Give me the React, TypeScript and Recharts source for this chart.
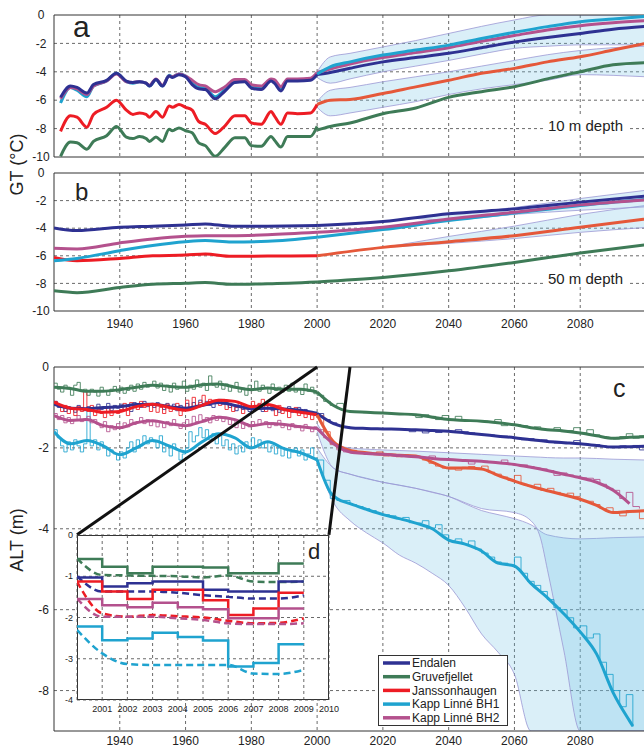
import React from 'react';
import {
  ComposedChart,
  Line,
  Area,
  XAxis,
  YAxis,
  CartesianGrid,
  ReferenceArea,
  ReferenceLine,
} from 'recharts';

const FONT = '"Liberation Sans", Arial, Helvetica, sans-serif';

const STATIONS = ['Endalen', 'Gruvefjellet', 'Janssonhaugen', 'Kapp Linné BH1', 'Kapp Linné BH2'];
const COLORS = ['#2e3192', '#3e7b57', '#ed1c24', '#1fa3cf', '#b4518d'];
const PROJ_RED = '#e5583a';
const BAND_FILL = '#6fc2e4';
const BAND_EDGE = '#9c98d4';

const DECADES = [1940, 1960, 1980, 2000, 2020, 2040, 2060, 2080];
const ODD_DECADES = [1930, 1950, 1970, 1990, 2010, 2030, 2050, 2070, 2090];

// ---------- panel a : 10 m depth ----------
const aHistYears = [1922, 1925, 1927, 1930, 1932, 1936, 1939, 1942, 1944, 1946, 1948, 1949, 1951, 1953, 1955, 1956, 1958, 1960, 1962, 1964, 1966, 1969, 1972, 1975, 1978, 1980, 1983, 1986, 1987, 1989, 1991, 1994, 1998, 2000];
const aHistEndalen = [-5.8, -5.0, -5.1, -5.5, -4.9, -4.6, -4.1, -4.65, -4.75, -4.7, -4.8, -5.0, -4.55, -5.0, -4.3, -4.4, -4.2, -4.35, -4.9, -5.2, -5.25, -5.9, -5.35, -4.75, -4.7, -5.15, -5.25, -4.65, -4.8, -5.35, -4.65, -4.65, -4.6, -4.2];
const aHistGruve = [-9.95, -8.95, -9.0, -9.45, -8.9, -8.5, -7.85, -8.6, -8.7, -8.55, -8.7, -8.9, -8.6, -8.9, -8.05, -8.15, -7.95, -8.15, -8.3, -9.0, -9.2, -9.95, -9.3, -8.65, -8.65, -9.2, -9.25, -8.55, -8.8, -9.3, -8.55, -8.55, -8.55, -7.85];
const aHistJansson = [-8.2, -7.1, -7.2, -7.9, -7.0, -6.5, -6.0, -6.7, -7.0, -6.9, -7.0, -7.2, -6.8, -7.2, -6.4, -6.5, -6.3, -6.5, -6.7, -7.5, -7.7, -8.35, -7.8, -7.1, -7.1, -7.6, -7.7, -6.8, -7.1, -7.7, -6.9, -6.95, -6.9, -6.3];
const aHistBH1 = [-6.2, -5.1, -5.3, -5.75, -5.0, -4.65, -4.1, -4.7, -4.8, -4.7, -4.8, -5.0, -4.55, -5.0, -4.25, -4.35, -4.15, -4.3, -4.8, -5.1, -5.15, -5.75, -5.25, -4.7, -4.65, -5.05, -5.15, -4.6, -4.7, -5.25, -4.55, -4.55, -4.5, -4.15];
const aHistBH2 = [-5.9, -5.1, -5.2, -5.6, -5.0, -4.65, -4.15, -4.7, -4.75, -4.7, -4.8, -4.95, -4.5, -4.95, -4.3, -4.35, -4.15, -4.3, -4.6, -4.9, -5.0, -5.4, -5.05, -4.55, -4.55, -4.9, -5.0, -4.5, -4.55, -5.05, -4.5, -4.5, -4.45, -4.05];

const aProjYears = [2000, 2004, 2010, 2020, 2030, 2040, 2050, 2060, 2070, 2080, 2090, 2100];
const aProjEndalen = [-4.2, -4.05, -3.75, -3.3, -3.0, -2.7, -2.3, -1.9, -1.58, -1.3, -1.0, -0.8];
const aProjGruve = [-8.1, -7.85, -7.6, -6.95, -6.55, -5.8, -5.4, -5.05, -4.5, -4.0, -3.5, -3.35];
const aProjJansson = [-6.3, -6.0, -5.95, -5.53, -5.06, -4.6, -4.1, -3.76, -3.3, -2.94, -2.47, -2.0];
const aProjBH1 = [-4.15, -3.65, -3.3, -2.82, -2.47, -2.12, -1.65, -1.22, -0.82, -0.47, -0.28, -0.1];
const aProjBH2 = [-4.05, -3.8, -3.45, -3.0, -2.65, -2.3, -1.85, -1.45, -1.05, -0.75, -0.55, -0.4];
const aBand1Hi = [-4.0, -2.95, -2.7, -2.25, -1.8, -1.3, -0.8, -0.35, 0, 0, 0, 0];
const aBand1Lo = [-4.4, -4.8, -4.5, -4.0, -3.6, -3.2, -2.75, -2.35, -2.2, -2.1, -2.1, -2.1];
const aBand2Hi = [-6.1, -5.3, -5.1, -4.7, -4.35, -4.0, -3.6, -3.2, -2.8, -2.5, -2.3, -2.2];
const aBand2Lo = [-6.5, -7.1, -6.9, -6.5, -6.1, -5.6, -5.2, -4.9, -4.6, -4.2, -4.25, -4.35];

// ---------- panel b : 50 m depth ----------
const bHistYears = [1920, 1927, 1940, 1950, 1960, 1966, 1974, 1985, 2000];
const bHistEndalen = [-3.98, -4.17, -3.93, -3.85, -3.76, -3.69, -3.86, -3.85, -3.81];
const bHistGruve = [-8.54, -8.67, -8.3, -8.06, -7.99, -7.94, -8.06, -8.02, -7.89];
const bHistJansson = [-6.12, -6.36, -6.19, -6.0, -5.95, -5.87, -6.04, -6.02, -6.0];
const bHistBH1 = [-6.36, -6.19, -5.63, -5.25, -4.98, -4.9, -5.0, -4.95, -4.66];
const bHistBH2 = [-5.46, -5.5, -5.07, -4.78, -4.59, -4.54, -4.54, -4.48, -4.3];

const bProjYears = [2000, 2020, 2040, 2060, 2080, 2100];
const bProjEndalen = [-3.81, -3.52, -2.96, -2.6, -2.11, -1.67];
const bProjGruve = [-7.89, -7.57, -7.09, -6.48, -5.8, -5.2];
const bProjJansson = [-6.0, -5.39, -4.98, -4.54, -3.93, -3.33];
const bProjBH1 = [-4.66, -4.1, -3.45, -2.9, -2.35, -1.9];
const bProjBH2 = [-4.3, -3.93, -3.33, -2.84, -2.31, -1.94];
const bBand1Years = [2030, 2040, 2060, 2080, 2100];
const bBand1Hi = [-3.25, -3.0, -2.5, -1.85, -1.25];
const bBand1Lo = [-3.3, -3.4, -3.0, -2.7, -2.45];
const bBand2Years = [2020, 2040, 2060, 2080, 2100];
const bBand2Hi = [-5.4, -4.6, -3.85, -3.0, -2.35];
const bBand2Lo = [-5.4, -5.1, -4.75, -4.3, -3.95];

// ---------- panel c : active layer thickness ----------
const cStepYears = Array.from({ length: 81 }, (_, i) => 1920 + i);
const cStepGruve = [
  -0.4, -0.55, -0.62, -0.45, -0.5, -0.7, -0.45, -0.38, -0.6, -0.55,
  -0.7, -0.55, -0.62, -0.72, -0.5, -0.58, -0.7, -0.55, -0.48, -0.62,
  -0.5, -0.65, -0.58, -0.45, -0.6, -0.42, -0.55, -0.38, -0.5, -0.45,
  -0.35, -0.52, -0.4, -0.58, -0.45, -0.62, -0.4, -0.55, -0.48, -0.35,
  -0.6, -0.45, -0.55, -0.32, -0.5, -0.4, -0.58, -0.22, -0.45, -0.5,
  -0.35, -0.55, -0.42, -0.6, -0.48, -0.38, -0.62, -0.52, -0.7, -0.45,
  -0.55, -0.35, -0.6, -0.45, -0.52, -0.65, -0.42, -0.58, -0.5, -0.62,
  -0.45, -0.6, -0.4, -0.62, -0.55, -0.68, -0.42, -0.6, -0.5, -0.66,
  -0.7,
];
const cStepEndalen = [
  -0.85, -1.0, -0.95, -1.1, -0.98, -1.05, -1.12, -0.95, -1.0, -1.08,
  -0.98, -1.1, -1.02, -0.92, -1.05, -1.0, -0.9, -1.08, -0.95, -1.02,
  -0.92, -1.05, -0.98, -1.1, -0.88, -0.95, -1.0, -0.85, -0.98, -0.92,
  -1.0, -0.88, -0.95, -1.05, -0.9, -1.02, -0.92, -1.08, -0.95, -1.0,
  -0.9, -1.02, -0.88, -0.95, -0.82, -0.9, -0.85, -0.95, -1.0, -0.9,
  -0.8, -0.92, -0.88, -1.0, -0.95, -1.08, -0.98, -1.05, -0.95, -1.1,
  -0.98, -1.05, -0.92, -1.1, -1.0, -0.95, -1.08, -1.0, -1.12, -1.02,
  -1.08, -0.98, -1.12, -1.05, -1.0, -1.15, -1.05, -1.1, -1.18, -1.12,
  -1.2,
];
const cStepJansson = [
  -0.85, -0.95, -1.1, -0.95, -1.15, -1.05, -1.2, -0.98, -1.1, -0.6,
  -1.1, -0.95, -1.2, -1.05, -1.15, -1.25, -1.0, -1.2, -1.1, -1.15,
  -1.05, -0.9, -1.2, -0.88, -0.95, -1.05, -0.85, -1.0, -0.92, -1.1,
  -0.95, -1.12, -1.0, -1.15, -0.92, -1.1, -1.05, -0.9, -1.2, -1.0,
  -0.82, -1.0, -0.75, -0.95, -0.88, -0.7, -0.95, -0.8, -0.9, -0.85,
  -0.95, -0.8, -1.05, -0.9, -1.1, -1.0, -0.88, -1.15, -0.98, -1.05,
  -0.85, -1.02, -0.9, -0.8, -1.1, -0.95, -1.05, -1.2, -0.95, -1.15,
  -1.05, -1.25, -1.1, -1.0, -1.2, -1.1, -1.25, -1.15, -1.3, -1.2,
  -1.25,
];
const cStepBH1 = [
  -1.55, -1.75, -1.95, -2.1, -1.85, -2.05, -1.8, -1.95, -2.1, -1.9,
  -1.0, -1.95, -1.8, -2.05, -1.85, -2.0, -2.2, -2.05, -2.15, -2.3,
  -2.1, -2.25, -2.0, -1.85, -2.1, -1.8, -1.95, -1.7, -1.9, -1.75,
  -1.85, -2.0, -1.7, -2.1, -1.95, -2.2, -1.9, -2.05, -2.3, -2.15,
  -2.0, -1.6, -1.85, -1.7, -1.5, -1.75, -1.55, -1.8, -1.65, -1.9,
  -1.7, -1.95, -1.8, -2.05, -1.9, -2.15, -1.95, -2.1, -1.85, -2.0,
  -1.75, -1.95, -1.8, -2.0, -1.85, -2.1, -1.95, -2.15, -2.0, -2.2,
  -2.05, -2.25, -2.1, -2.0, -2.2, -2.05, -2.3, -2.15, -2.0, -2.25,
  -2.3,
];
const cStepBH2 = [
  -1.15, -1.3, -1.2, -1.38, -1.25, -1.4, -1.3, -1.2, -1.35, -1.28,
  -1.22, -1.38, -1.3, -1.42, -1.5, -1.35, -1.6, -1.45, -1.55, -1.4,
  -1.52, -1.38, -1.48, -1.3, -1.42, -1.35, -1.25, -1.4, -1.3, -1.45,
  -1.32, -1.48, -1.38, -1.5, -1.35, -1.45, -1.3, -1.42, -1.52, -1.38,
  -1.3, -1.45, -1.22, -1.35, -1.18, -1.3, -1.25, -1.38, -1.2, -1.32,
  -1.22, -1.35, -1.28, -1.42, -1.3, -1.5, -1.38, -1.52, -1.4, -1.48,
  -1.35, -1.45, -1.3, -1.42, -1.35, -1.5, -1.38, -1.45, -1.32, -1.5,
  -1.42, -1.55, -1.4, -1.5, -1.45, -1.58, -1.42, -1.52, -1.6, -1.48,
  -1.55,
];

const cSmoothYears = [1920, 1925, 1930, 1935, 1940, 1945, 1950, 1955, 1960, 1965, 1970, 1975, 1980, 1985, 1990, 1995, 2000];
const cSmoothGruve = [-0.5, -0.53, -0.6, -0.6, -0.56, -0.5, -0.45, -0.48, -0.5, -0.44, -0.42, -0.5, -0.56, -0.52, -0.55, -0.55, -0.62];
const cSmoothEndalen = [-0.92, -1.02, -1.03, -1.0, -0.98, -0.93, -0.92, -0.98, -1.02, -0.95, -0.88, -0.95, -1.03, -1.02, -1.04, -1.07, -1.15];
const cSmoothJansson = [-0.87, -1.02, -1.05, -1.12, -1.1, -0.98, -0.92, -1.0, -1.07, -0.95, -0.82, -0.85, -0.98, -0.93, -1.05, -1.12, -1.18];
const cSmoothBH1 = [-1.6, -1.9, -1.82, -1.95, -2.17, -2.0, -1.82, -1.95, -2.1, -1.85, -1.65, -1.75, -2.0, -1.85, -2.02, -2.12, -2.3];
const cSmoothBH2 = [-1.2, -1.32, -1.3, -1.45, -1.5, -1.38, -1.33, -1.4, -1.45, -1.35, -1.24, -1.3, -1.45, -1.4, -1.42, -1.48, -1.52];

const cProjStepYears = Array.from({ length: 51 }, (_, i) => 2000 + 2 * i);
const cProjStepGruve = [
  -0.7, -0.85, -0.95, -0.9, -1.1, -1.12, -1.12, -1.13, -1.13, -1.14,
  -1.14, -1.15, -1.16, -1.17, -1.18, -1.25, -1.18, -1.22, -1.3, -1.2,
  -1.3, -1.22, -1.32, -1.33, -1.34, -1.34, -1.36, -1.3, -1.45, -1.42,
  -1.43, -1.45, -1.5, -1.48, -1.55, -1.55, -1.5, -1.6, -1.57, -1.5,
  -1.63, -1.55, -1.68, -1.72, -1.75, -1.78, -1.72, -1.65, -1.76, -1.7,
  -1.72,
];
const cProjStepEndalen = [
  -1.15, -1.3, -1.38, -1.45, -1.48, -1.5, -1.51, -1.52, -1.52, -1.53,
  -1.53, -1.54, -1.54, -1.55, -1.6, -1.55, -1.63, -1.56, -1.62, -1.58,
  -1.59, -1.55, -1.6, -1.63, -1.65, -1.67, -1.68, -1.7, -1.71, -1.73,
  -1.75, -1.8, -1.77, -1.82, -1.8, -1.84, -1.88, -1.86, -1.87, -1.82,
  -1.9, -1.93, -1.92, -1.95, -1.98, -1.98, -1.95, -1.99, -1.94, -2.05,
  -1.96,
];
const cProjStepJansson = [
  -1.2, -1.6, -1.9, -2.0, -2.06, -2.06, -2.1, -2.12, -2.14, -2.1,
  -2.2, -2.16, -2.22, -2.18, -2.2, -2.22, -2.3, -2.38, -2.45, -2.5,
  -2.52, -2.55, -2.48, -2.46, -2.5, -2.45, -2.6, -2.65, -2.72, -2.8,
  -2.68, -2.9, -2.95, -2.9, -3.05, -3.0, -3.1, -3.15, -3.12, -3.2,
  -3.3, -3.32, -3.4, -3.5, -3.48, -3.62, -3.68, -3.55, -3.58, -3.75,
  -3.55,
];
const cProjStepBH1 = [
  -2.3, -2.8, -3.25, -3.3, -3.3, -3.4, -3.45, -3.5, -3.55, -3.62,
  -3.65, -3.68, -3.75, -3.72, -3.85, -3.86, -3.8, -3.98, -3.9, -4.15,
  -4.3, -4.25, -4.38, -4.3, -4.5, -4.6, -4.7, -4.82, -4.85, -4.9,
  -4.7, -5.1, -5.3, -5.4, -5.55, -5.75, -5.95, -6.0, -6.2, -6.45,
  -6.4, -6.7, -6.6, -7.3, -7.6, -8.0, -8.4, -8.1, -8.9,
];
const cProjStepBH2 = [
  -1.55, -1.75, -1.92, -2.05, -2.1, -2.12, -2.13, -2.14, -2.15, -2.16,
  -2.16, -2.18, -2.19, -2.2, -2.21, -2.22, -2.24, -2.2, -2.27, -2.28,
  -2.29, -2.3, -2.31, -2.4, -2.33, -2.33, -2.35, -2.36, -2.3, -2.4,
  -2.41, -2.42, -2.46, -2.5, -2.52, -2.56, -2.68, -2.62, -2.67, -2.7,
  -2.74, -2.75, -2.78, -2.9, -3.0, -3.05, -3.25, -3.1, -3.45, -3.5,
];

const cProjYears = [2000, 2005, 2010, 2015, 2020, 2025, 2030, 2035, 2040, 2045, 2050, 2055, 2060, 2065, 2070, 2075, 2080, 2085, 2090, 2095, 2100];
const cProjGruve = [-0.62, -0.95, -1.1, -1.12, -1.14, -1.16, -1.18, -1.24, -1.3, -1.32, -1.34, -1.38, -1.43, -1.5, -1.55, -1.58, -1.63, -1.7, -1.76, -1.74, -1.72];
const cProjEndalen = [-1.15, -1.4, -1.5, -1.52, -1.53, -1.54, -1.55, -1.57, -1.59, -1.63, -1.67, -1.71, -1.75, -1.8, -1.84, -1.87, -1.9, -1.94, -1.98, -1.97, -1.96];
const cProjJansson = [-1.18, -1.85, -2.06, -2.12, -2.16, -2.18, -2.2, -2.35, -2.5, -2.5, -2.52, -2.68, -2.82, -2.95, -3.06, -3.16, -3.27, -3.42, -3.6, -3.57, -3.55];
const cProjBH2 = [-1.52, -1.9, -2.1, -2.14, -2.16, -2.19, -2.22, -2.26, -2.29, -2.31, -2.33, -2.37, -2.41, -2.48, -2.56, -2.65, -2.74, -2.85, -3.05, -3.38];
const cProjBH1Years = [2000, 2002, 2004, 2006, 2010, 2015, 2020, 2025, 2030, 2035, 2040, 2045, 2050, 2055, 2060, 2065, 2070, 2075, 2080, 2085, 2090, 2095, 2096];
const cProjBH1 = [-2.3, -2.75, -3.1, -3.25, -3.38, -3.52, -3.65, -3.75, -3.86, -4.0, -4.28, -4.38, -4.55, -4.85, -4.92, -5.35, -5.7, -6.1, -6.55, -7.1, -8.05, -8.75, -8.88];

const cBandAYears = [2000, 2005, 2010, 2020, 2030, 2040, 2050, 2060, 2065, 2068, 2070, 2075, 2080, 2090, 2100];
const cBandAHi = [-1.4, -1.9, -2.0, -2.05, -2.08, -2.12, -2.16, -2.2, -2.22, -2.23, -2.24, -2.25, -2.25, -2.28, -2.3];
const cBandALo = [-1.6, -2.5, -2.65, -2.85, -3.0, -3.2, -3.5, -3.6, -3.8, -4.25, -5.0, -7.0, -9.0, -9.0, -9.0];
const cBandBYears = [2000, 2005, 2010, 2015, 2020, 2025, 2030, 2035, 2040, 2045, 2050, 2055, 2060, 2065, 2070, 2080, 2090, 2100];
const cBandBHi = [-2.0, -2.5, -2.65, -2.75, -2.85, -2.92, -3.0, -3.1, -3.2, -3.38, -3.55, -3.65, -3.75, -3.9, -4.15, -4.25, -4.22, -4.2];
const cBandBLo = [-2.3, -3.35, -3.8, -4.1, -4.35, -4.65, -4.85, -5.1, -5.4, -5.95, -6.6, -7.05, -7.6, -9.0, -9.0, -9.0, -9.0, -9.0];

// ---------- inset d : 2000-2009 ----------
const dYears = [2000, 2001, 2002, 2003, 2004, 2005, 2006, 2007, 2008, 2009];
const dObsGruve = [-0.58, -0.77, -0.93, -0.77, -0.77, -0.79, -0.93, -0.93, -0.69, -0.69];
const dObsEndalen = [-1.03, -1.25, -1.17, -1.13, -1.13, -1.33, -1.37, -1.37, -1.13, -1.13];
const dObsJansson = [-1.13, -1.37, -1.55, -1.33, -1.33, -1.58, -1.94, -1.78, -1.4, -1.4];
const dObsBH1 = [-2.22, -2.55, -2.51, -2.37, -2.47, -2.56, -3.19, -3.1, -2.65, -2.65];
const dObsBH2 = [-1.55, -1.7, -1.75, -1.64, -1.75, -1.8, -2.02, -2.02, -1.78, -1.78];
const dModGruve = [-0.57, -0.97, -0.98, -0.99, -1.0, -1.03, -0.98, -1.13, -1.14, -1.13];
const dModEndalen = [-1.0, -1.37, -1.37, -1.37, -1.4, -1.46, -1.5, -1.54, -1.54, -1.46];
const dModJansson = [-1.13, -1.9, -1.98, -1.94, -1.97, -2.0, -2.08, -2.14, -2.13, -2.02];
const dModBH1 = [-2.3, -2.87, -3.13, -3.15, -3.15, -3.15, -3.15, -3.36, -3.37, -3.27];
const dModBH2 = [-1.54, -1.98, -1.98, -1.98, -2.02, -2.06, -2.14, -2.16, -2.16, -2.14];
const dXTicks = [2001, 2002, 2003, 2004, 2005, 2006, 2007, 2008, 2009, 2010];

const pts = (xs: number[], vs: number[]) => vs.map((v, i) => ({ year: xs[i], v }));
const band = (xs: number[], lo: number[], hi: number[]) => xs.map((x, i) => ({ year: x, r: [lo[i], hi[i]] }));

const yTick = (anchor: 'middle' | 'end', size = 12) => (props: any) => {
  const { x, y, payload } = props;
  return (
    <text x={x} y={y} dy={size * 0.35} textAnchor={anchor} fontSize={size} fill="#222" fontFamily={FONT}>
      {payload.value}
    </text>
  );
};

const thick = (data: any[], color: string, key: string, w = 3) => (
  <Line key={key} data={data} dataKey="v" type="monotone" stroke={color} strokeWidth={w} dot={false} isAnimationActive={false} />
);
const step = (data: any[], color: string, key: string) => (
  <Line key={key} data={data} dataKey="v" type="stepAfter" stroke={color} strokeWidth={1} strokeOpacity={0.85} dot={false} isAnimationActive={false} />
);
const rangeArea = (data: any[], key: string) => (
  <Area key={key} data={data} dataKey="r" type="monotone" stroke={BAND_EDGE} strokeWidth={0.8} fill={BAND_FILL} fillOpacity={0.26} isAnimationActive={false} />
);

const gridProps = { stroke: '#444', strokeDasharray: '3 3', strokeWidth: 0.8 };

function PanelA() {
  return (
    <ComposedChart width={650} height={172} margin={{ top: 15, right: 4, bottom: 15, left: 0 }}>
      <CartesianGrid {...gridProps} horizontalValues={[-2, -4, -6, -8]} verticalValues={DECADES} />
      <XAxis dataKey="year" type="number" domain={[1920, 2100]} allowDataOverflow hide />
      <YAxis type="number" domain={[-10, 0]} allowDataOverflow ticks={[0, -2, -4, -6, -8, -10]} interval={0} width={54} tickSize={0} tickMargin={13} tickLine={false} axisLine={false} tick={yTick('middle')} />
      <YAxis yAxisId="m" type="number" mirror domain={[-10, 0]} allowDataOverflow ticks={[-1, -3, -5, -7, -9]} interval={0} tick={false} axisLine={false} tickSize={5} tickLine={{ stroke: '#333' }} />
      {rangeArea(band(aProjYears, aBand2Lo, aBand2Hi), 'b2')}
      {rangeArea(band(aProjYears, aBand1Lo, aBand1Hi), 'b1')}
      {thick(pts(aHistYears, aHistGruve), COLORS[1], 'hg')}
      {thick(pts(aHistYears, aHistJansson), COLORS[2], 'hj')}
      {thick(pts(aHistYears, aHistBH1), COLORS[3], 'h1')}
      {thick(pts(aHistYears, aHistBH2), COLORS[4], 'h2')}
      {thick(pts(aHistYears, aHistEndalen), COLORS[0], 'he')}
      {thick(pts(aProjYears, aProjGruve), COLORS[1], 'pg')}
      {thick(pts(aProjYears, aProjJansson), PROJ_RED, 'pj')}
      {thick(pts(aProjYears, aProjEndalen), COLORS[0], 'pe')}
      {thick(pts(aProjYears, aProjBH2), COLORS[4], 'p2')}
      {thick(pts(aProjYears, aProjBH1), COLORS[3], 'p1')}
      <ReferenceArea x1={1920} x2={2100} y1={-10} y2={0} fill="none" stroke="#333" strokeWidth={1} />
    </ComposedChart>
  );
}

function PanelB() {
  return (
    <ComposedChart width={650} height={182} margin={{ top: 15, right: 4, bottom: 5, left: 0 }}>
      <CartesianGrid {...gridProps} horizontalValues={[-2, -4, -6, -8]} verticalValues={DECADES} />
      <XAxis dataKey="year" type="number" domain={[1920, 2100]} allowDataOverflow ticks={DECADES} interval={0} height={24} tickLine={false} axisLine={false} tickSize={6} tickMargin={2} tick={{ fontSize: 12, fill: '#222', fontFamily: FONT }} />
      <YAxis type="number" domain={[-10, 0]} allowDataOverflow ticks={[0, -2, -4, -6, -8, -10]} interval={0} width={54} tickSize={0} tickMargin={13} tickLine={false} axisLine={false} tick={yTick('middle')} />
      <YAxis yAxisId="m" type="number" mirror domain={[-10, 0]} allowDataOverflow ticks={[-1, -3, -5, -7, -9]} interval={0} tick={false} axisLine={false} tickSize={5} tickLine={{ stroke: '#333' }} />
      {rangeArea(band(bBand2Years, bBand2Lo, bBand2Hi), 'b2')}
      {rangeArea(band(bBand1Years, bBand1Lo, bBand1Hi), 'b1')}
      {thick(pts(bHistYears, bHistGruve), COLORS[1], 'hg')}
      {thick(pts(bHistYears, bHistJansson), COLORS[2], 'hj')}
      {thick(pts(bHistYears, bHistBH1), COLORS[3], 'h1')}
      {thick(pts(bHistYears, bHistBH2), COLORS[4], 'h2')}
      {thick(pts(bHistYears, bHistEndalen), COLORS[0], 'he')}
      {thick(pts(bProjYears, bProjGruve), COLORS[1], 'pg')}
      {thick(pts(bProjYears, bProjJansson), PROJ_RED, 'pj')}
      {thick(pts(bProjYears, bProjBH1), COLORS[3], 'p1')}
      {thick(pts(bProjYears, bProjBH2), COLORS[4], 'p2')}
      {thick(pts(bProjYears, bProjEndalen), COLORS[0], 'pe')}
      <ReferenceArea x1={1920} x2={2100} y1={-10} y2={0} fill="none" stroke="#333" strokeWidth={1} />
    </ComposedChart>
  );
}

function PanelC() {
  return (
    <ComposedChart width={650} height={397} margin={{ top: 17, right: 4, bottom: 0, left: 0 }}>
      <CartesianGrid {...gridProps} horizontalValues={[-2, -4, -6, -8]} verticalValues={DECADES} />
      <XAxis dataKey="year" type="number" domain={[1920, 2100]} allowDataOverflow ticks={DECADES} interval={0} height={16} tickLine={false} axisLine={false} tickSize={3} tickMargin={2} tick={{ fontSize: 12, fill: '#222', fontFamily: FONT }} />
      <XAxis xAxisId="t" orientation="top" mirror type="number" domain={[1920, 2100]} allowDataOverflow ticks={ODD_DECADES} interval={0} tick={false} axisLine={false} tickSize={5} tickLine={{ stroke: '#333' }} />
      <XAxis xAxisId="bm" orientation="bottom" mirror type="number" domain={[1920, 2100]} allowDataOverflow ticks={ODD_DECADES} interval={0} tick={false} axisLine={false} tickSize={5} tickLine={{ stroke: '#333' }} />
      <YAxis type="number" domain={[-9, 0]} allowDataOverflow ticks={[0, -2, -4, -6, -8]} interval={0} width={54} tickSize={0} tickMargin={5} tickLine={false} axisLine={false} tick={yTick('end')} />
      <YAxis yAxisId="m" type="number" mirror domain={[-9, 0]} allowDataOverflow ticks={[-1, -3, -5, -7]} interval={0} tick={false} axisLine={false} tickSize={5} tickLine={{ stroke: '#333' }} />
      {rangeArea(band(cBandBYears, cBandBLo, cBandBHi), 'bb')}
      {rangeArea(band(cBandAYears, cBandALo, cBandAHi), 'ba')}
      {step(pts(cStepYears, cStepGruve), COLORS[1], 'sg')}
      {step(pts(cStepYears, cStepBH1), COLORS[3], 's1')}
      {step(pts(cStepYears, cStepBH2), COLORS[4], 's2')}
      {step(pts(cStepYears, cStepEndalen), COLORS[0], 'se')}
      {step(pts(cStepYears, cStepJansson), COLORS[2], 'sj')}
      {step(pts(cProjStepYears, cProjStepGruve), COLORS[1], 'qg')}
      {step(pts(cProjStepYears, cProjStepEndalen), COLORS[0], 'qe')}
      {step(pts(cProjStepYears, cProjStepBH2), COLORS[4], 'q2')}
      {step(pts(cProjStepYears, cProjStepJansson), PROJ_RED, 'qj')}
      {step(pts(cProjStepYears, cProjStepBH1), COLORS[3], 'q1')}
      {thick(pts(cSmoothYears, cSmoothGruve), COLORS[1], 'mg')}
      {thick(pts(cSmoothYears, cSmoothBH1), COLORS[3], 'm1')}
      {thick(pts(cSmoothYears, cSmoothBH2), COLORS[4], 'm2')}
      {thick(pts(cSmoothYears, cSmoothEndalen), COLORS[0], 'me')}
      {thick(pts(cSmoothYears, cSmoothJansson), COLORS[2], 'mj')}
      {thick(pts(cProjYears, cProjGruve), COLORS[1], 'pg')}
      {thick(pts(cProjYears, cProjEndalen), COLORS[0], 'pe')}
      {thick(pts(cProjYears, cProjJansson), PROJ_RED, 'pj')}
      {thick(pts(cProjYears, cProjBH2), COLORS[4], 'p2')}
      {thick(pts(cProjBH1Years, cProjBH1), COLORS[3], 'p1')}
      <ReferenceLine segment={[{ x: 2000, y: 0 }, { x: 1927, y: -4.15 }]} stroke="#111" strokeWidth={3} ifOverflow="visible" />
      <ReferenceLine segment={[{ x: 2010, y: 0 }, { x: 2003.6, y: -4.15 }]} stroke="#111" strokeWidth={3} ifOverflow="visible" />
      <ReferenceArea x1={1920} x2={2100} y1={-9} y2={0} fill="none" stroke="#333" strokeWidth={1} />
    </ComposedChart>
  );
}

function InsetD() {
  const obs = [dObsGruve, dObsEndalen, dObsJansson, dObsBH2, dObsBH1];
  const mod = [dModGruve, dModEndalen, dModJansson, dModBH2, dModBH1];
  const col = [COLORS[1], COLORS[0], COLORS[2], COLORS[4], COLORS[3]];
  return (
    <div style={{ position: 'absolute', left: 50, top: 525, width: 290, height: 195 }}>
      <div style={{ position: 'absolute', left: 27, top: 10, width: 252, height: 165, background: '#fff', border: '1px solid #333', boxSizing: 'border-box' }} />
      <ComposedChart width={290} height={195} margin={{ top: 10, right: 11, bottom: 6, left: 0 }} style={{ position: 'absolute', left: 0, top: 0 }}>
        <CartesianGrid {...gridProps} />
        <XAxis dataKey="year" type="number" domain={[2000, 2010]} allowDataOverflow ticks={dXTicks} interval={0} height={14} tickLine={false} axisLine={false} tickSize={5} tickMargin={1} tick={{ fontSize: 9, fill: '#222', fontFamily: FONT }} />
        <YAxis type="number" domain={[-4, 0]} allowDataOverflow ticks={[0, -1, -2, -3, -4]} interval={0} width={27} tickLine={false} axisLine={false} tickSize={0} tickMargin={4} tick={yTick('end', 9)} />
        {mod.map((m, i) => (
          <Line key={'d' + i} data={pts(dYears, m)} dataKey="v" type="monotone" stroke={col[i]} strokeWidth={2.5} strokeDasharray="7 4" dot={false} isAnimationActive={false} />
        ))}
        {obs.map((o, i) => (
          <Line key={'o' + i} data={pts(dYears, o)} dataKey="v" type="stepAfter" stroke={col[i]} strokeWidth={2.5} dot={false} isAnimationActive={false} />
        ))}
      </ComposedChart>
    </div>
  );
}

function Overlay() {
  return (
    <svg width={644} height={747} style={{ position: 'absolute', left: 0, top: 0, pointerEvents: 'none' }} fontFamily={FONT}>
      <text x={73} y={37} fontSize={30} fill="#222">a</text>
      <text x={75} y={200} fontSize={24} fill="#222">b</text>
      <text x={613} y={397} fontSize={25} fill="#222">c</text>
      <text x={308} y={559} fontSize={22} fill="#222">d</text>
      <rect x={544} y={116} width={84} height={19} fill="#fff" />
      <text x={548} y={130.5} fontSize={15} fill="#222">10 m depth</text>
      <rect x={544} y={268} width={84} height={19} fill="#fff" />
      <text x={548} y={283.5} fontSize={15} fill="#222">50 m depth</text>
      <text transform="translate(23,164.5) rotate(-90)" textAnchor="middle" fontSize={18} fill="#222">GT (°C)</text>
      <text transform="translate(23,540) rotate(-90)" textAnchor="middle" fontSize={18} fill="#222">ALT (m)</text>
      <rect x={378.5} y={655.5} width={129} height={70} fill="#fff" stroke="#333" strokeWidth={1} />
      {STATIONS.map((s, i) => {
        const y = 663 + i * 13.7;
        return (
          <g key={s}>
            <line x1={383} x2={410} y1={y} y2={y} stroke={COLORS[i]} strokeWidth={3.5} />
            <text x={412} y={y + 4.3} fontSize={12} fill="#222">{s}</text>
          </g>
        );
      })}
    </svg>
  );
}

export default function App() {
  return (
    <div style={{ position: 'absolute', left: 0, top: 0, width: 644, height: 747, overflow: 'hidden', background: '#fff', fontFamily: FONT }}>
      <div style={{ position: 'absolute', left: 0, top: 0 }}><PanelA /></div>
      <div style={{ position: 'absolute', left: 0, top: 158 }}><PanelB /></div>
      <div style={{ position: 'absolute', left: 0, top: 350 }}><PanelC /></div>
      <InsetD />
      <Overlay />
    </div>
  );
}
